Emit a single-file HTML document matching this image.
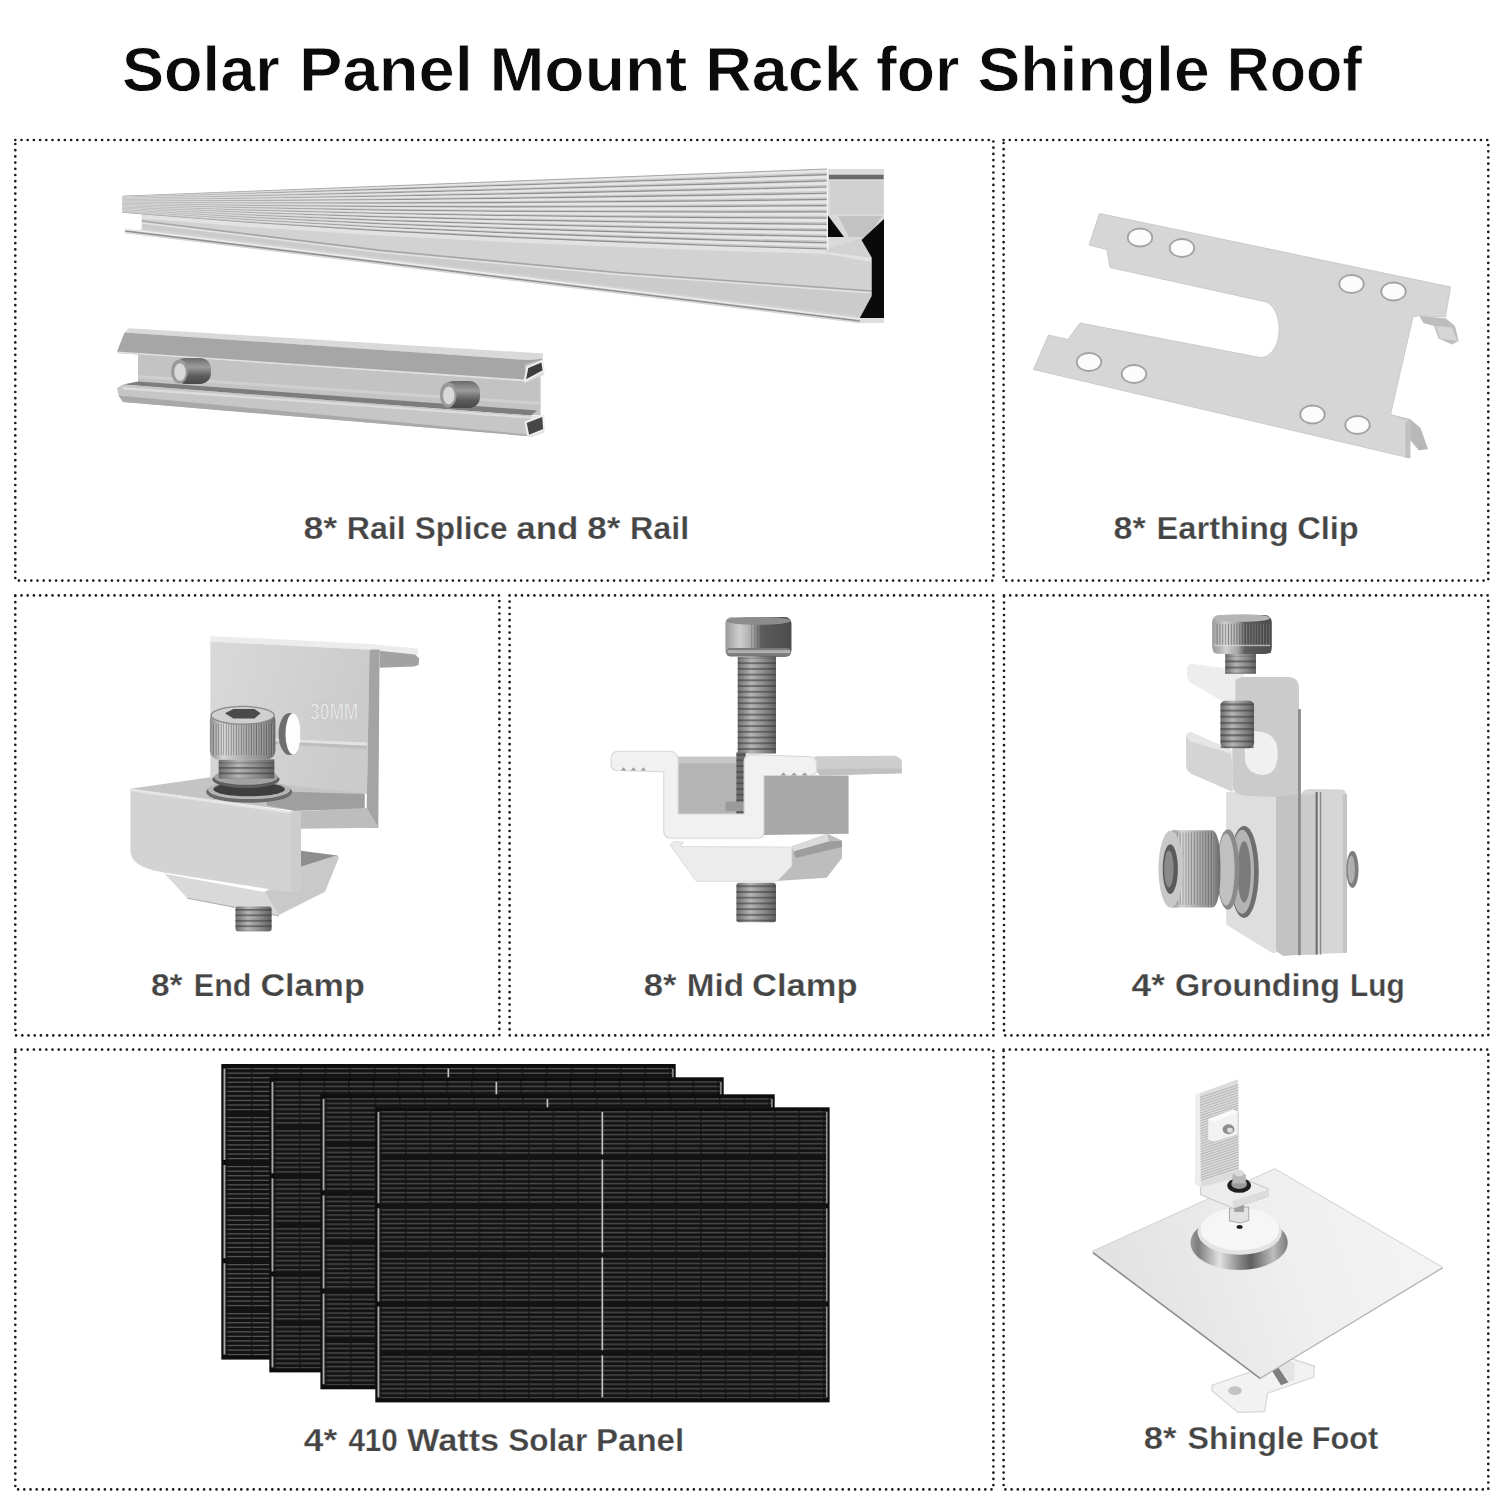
<!DOCTYPE html>
<html><head><meta charset="utf-8"><title>Solar Panel Mount Rack for Shingle Roof</title>
<style>
html,body{margin:0;padding:0;background:#fff;}
body{width:1500px;height:1500px;overflow:hidden;font-family:"Liberation Sans", sans-serif;}
svg{display:block;}
</style></head><body>
<svg width="1500" height="1500" viewBox="0 0 1500 1500" font-family="Liberation Sans, sans-serif">
<defs>
<linearGradient id="gBoltH" x1="0" x2="1" y1="0" y2="0">
<stop offset="0" stop-color="#8c8c8c"/><stop offset="0.25" stop-color="#c9c9c9"/><stop offset="0.6" stop-color="#8a8a8a"/><stop offset="1" stop-color="#5e5e5e"/>
</linearGradient>
<linearGradient id="gShaft" x1="0" x2="1" y1="0" y2="0">
<stop offset="0" stop-color="#6f6f6f"/><stop offset="0.35" stop-color="#b5b5b5"/><stop offset="0.7" stop-color="#8a8a8a"/><stop offset="1" stop-color="#606060"/>
</linearGradient>
<linearGradient id="gHeadD" x1="0" x2="1" y1="0" y2="0">
<stop offset="0" stop-color="#9a9a9a"/><stop offset="0.22" stop-color="#cfcfcf"/><stop offset="0.42" stop-color="#a4a4a4"/><stop offset="0.55" stop-color="#5e5e5e"/><stop offset="1" stop-color="#4c4c4c"/>
</linearGradient>
<pattern id="thread" width="20" height="26" patternUnits="userSpaceOnUse">
<rect width="20" height="26" fill="none"/><rect y="0" width="20" height="9" fill="#3a3a3a" opacity="0.55"/>
</pattern>
<pattern id="knurl" width="14" height="20" patternUnits="userSpaceOnUse">
<rect x="0" width="5" height="20" fill="#4a4a4a" opacity="0.35"/>
</pattern>
<pattern id="cells" width="24.2" height="4.58" patternUnits="userSpaceOnUse">
<rect width="24.2" height="4.58" fill="#141414"/>
<rect x="0.8" y="1.6" width="22.6" height="1.1" fill="#505050"/>
</pattern>
</defs>

<text x="122.0" y="91.3" font-size="62.8" font-weight="bold" fill="#0b0b0b" textLength="157.8" lengthAdjust="spacingAndGlyphs" stroke="#ffffff" stroke-width="0.8">Solar</text>
<text x="299.0" y="91.3" font-size="62.8" font-weight="bold" fill="#0b0b0b" textLength="173.8" lengthAdjust="spacingAndGlyphs" stroke="#ffffff" stroke-width="0.8">Panel</text>
<text x="489.4" y="91.3" font-size="62.8" font-weight="bold" fill="#0b0b0b" textLength="197.8" lengthAdjust="spacingAndGlyphs" stroke="#ffffff" stroke-width="0.8">Mount</text>
<text x="705.2" y="91.3" font-size="62.8" font-weight="bold" fill="#0b0b0b" textLength="154.4" lengthAdjust="spacingAndGlyphs" stroke="#ffffff" stroke-width="0.8">Rack</text>
<text x="876.0" y="91.3" font-size="62.8" font-weight="bold" fill="#0b0b0b" textLength="83.4" lengthAdjust="spacingAndGlyphs" stroke="#ffffff" stroke-width="0.8">for</text>
<text x="977.4" y="91.3" font-size="62.8" font-weight="bold" fill="#0b0b0b" textLength="232.4" lengthAdjust="spacingAndGlyphs" stroke="#ffffff" stroke-width="0.8">Shingle</text>
<text x="1226.8" y="91.3" font-size="62.8" font-weight="bold" fill="#0b0b0b" textLength="135.2" lengthAdjust="spacingAndGlyphs" stroke="#ffffff" stroke-width="0.8">Roof</text>
<text x="303.4" y="538.5" font-size="31" font-weight="bold" fill="#454545" textLength="33.8" lengthAdjust="spacingAndGlyphs" stroke="#ffffff" stroke-width="0.25">8*</text>
<text x="346.8" y="538.5" font-size="31" font-weight="bold" fill="#454545" textLength="58.8" lengthAdjust="spacingAndGlyphs" stroke="#ffffff" stroke-width="0.25">Rail</text>
<text x="414.8" y="538.5" font-size="31" font-weight="bold" fill="#454545" textLength="92.8" lengthAdjust="spacingAndGlyphs" stroke="#ffffff" stroke-width="0.25">Splice</text>
<text x="516.2" y="538.5" font-size="31" font-weight="bold" fill="#454545" textLength="62.2" lengthAdjust="spacingAndGlyphs" stroke="#ffffff" stroke-width="0.25">and</text>
<text x="587.2" y="538.5" font-size="31" font-weight="bold" fill="#454545" textLength="33.2" lengthAdjust="spacingAndGlyphs" stroke="#ffffff" stroke-width="0.25">8*</text>
<text x="630.0" y="538.5" font-size="31" font-weight="bold" fill="#454545" textLength="59.2" lengthAdjust="spacingAndGlyphs" stroke="#ffffff" stroke-width="0.25">Rail</text>
<text x="1113.6" y="539.2" font-size="31" font-weight="bold" fill="#454545" textLength="32.2" lengthAdjust="spacingAndGlyphs" stroke="#ffffff" stroke-width="0.25">8*</text>
<text x="1156.6" y="539.2" font-size="31" font-weight="bold" fill="#454545" textLength="132.2" lengthAdjust="spacingAndGlyphs" stroke="#ffffff" stroke-width="0.25">Earthing</text>
<text x="1297.2" y="539.2" font-size="31" font-weight="bold" fill="#454545" textLength="61.6" lengthAdjust="spacingAndGlyphs" stroke="#ffffff" stroke-width="0.25">Clip</text>
<text x="151.0" y="996" font-size="31" font-weight="bold" fill="#454545" textLength="31.6" lengthAdjust="spacingAndGlyphs" stroke="#ffffff" stroke-width="0.25">8*</text>
<text x="193.8" y="996" font-size="31" font-weight="bold" fill="#454545" textLength="57.6" lengthAdjust="spacingAndGlyphs" stroke="#ffffff" stroke-width="0.25">End</text>
<text x="260.4" y="996" font-size="31" font-weight="bold" fill="#454545" textLength="104.4" lengthAdjust="spacingAndGlyphs" stroke="#ffffff" stroke-width="0.25">Clamp</text>
<text x="643.8" y="996" font-size="31" font-weight="bold" fill="#454545" textLength="32.8" lengthAdjust="spacingAndGlyphs" stroke="#ffffff" stroke-width="0.25">8*</text>
<text x="686.8" y="996" font-size="31" font-weight="bold" fill="#454545" textLength="57.2" lengthAdjust="spacingAndGlyphs" stroke="#ffffff" stroke-width="0.25">Mid</text>
<text x="752.0" y="996" font-size="31" font-weight="bold" fill="#454545" textLength="105.6" lengthAdjust="spacingAndGlyphs" stroke="#ffffff" stroke-width="0.25">Clamp</text>
<text x="1131.6" y="996" font-size="31" font-weight="bold" fill="#454545" textLength="33.4" lengthAdjust="spacingAndGlyphs" stroke="#ffffff" stroke-width="0.25">4*</text>
<text x="1175.0" y="996" font-size="31" font-weight="bold" fill="#454545" textLength="165.0" lengthAdjust="spacingAndGlyphs" stroke="#ffffff" stroke-width="0.25">Grounding</text>
<text x="1350.0" y="996" font-size="31" font-weight="bold" fill="#454545" textLength="54.6" lengthAdjust="spacingAndGlyphs" stroke="#ffffff" stroke-width="0.25">Lug</text>
<text x="303.8" y="1451" font-size="31" font-weight="bold" fill="#454545" textLength="33.4" lengthAdjust="spacingAndGlyphs" stroke="#ffffff" stroke-width="0.25">4*</text>
<text x="348.4" y="1451" font-size="31" font-weight="bold" fill="#454545" textLength="49.4" lengthAdjust="spacingAndGlyphs" stroke="#ffffff" stroke-width="0.25">410</text>
<text x="407.0" y="1451" font-size="31" font-weight="bold" fill="#454545" textLength="92.2" lengthAdjust="spacingAndGlyphs" stroke="#ffffff" stroke-width="0.25">Watts</text>
<text x="508.2" y="1451" font-size="31" font-weight="bold" fill="#454545" textLength="79.0" lengthAdjust="spacingAndGlyphs" stroke="#ffffff" stroke-width="0.25">Solar</text>
<text x="596.0" y="1451" font-size="31" font-weight="bold" fill="#454545" textLength="88.2" lengthAdjust="spacingAndGlyphs" stroke="#ffffff" stroke-width="0.25">Panel</text>
<text x="1143.8" y="1448.8" font-size="31" font-weight="bold" fill="#454545" textLength="32.8" lengthAdjust="spacingAndGlyphs" stroke="#ffffff" stroke-width="0.25">8*</text>
<text x="1187.6" y="1448.8" font-size="31" font-weight="bold" fill="#454545" textLength="116.0" lengthAdjust="spacingAndGlyphs" stroke="#ffffff" stroke-width="0.25">Shingle</text>
<text x="1311.8" y="1448.8" font-size="31" font-weight="bold" fill="#454545" textLength="66.4" lengthAdjust="spacingAndGlyphs" stroke="#ffffff" stroke-width="0.25">Foot</text>
<rect x="15.3" y="140" width="978.1" height="440.6" fill="none" stroke="#1c1c1c" stroke-width="2.7" stroke-dasharray="0 6.2" stroke-linecap="round"/>
<rect x="1003.6" y="140" width="484.7" height="440.6" fill="none" stroke="#1c1c1c" stroke-width="2.7" stroke-dasharray="0 6.2" stroke-linecap="round"/>
<rect x="15.3" y="595.4" width="484.1" height="440.0" fill="none" stroke="#1c1c1c" stroke-width="2.7" stroke-dasharray="0 6.2" stroke-linecap="round"/>
<rect x="509.6" y="595.4" width="483.8" height="440.0" fill="none" stroke="#1c1c1c" stroke-width="2.7" stroke-dasharray="0 6.2" stroke-linecap="round"/>
<rect x="1004" y="595.4" width="484.3" height="440.0" fill="none" stroke="#1c1c1c" stroke-width="2.7" stroke-dasharray="0 6.2" stroke-linecap="round"/>
<rect x="15.3" y="1049.6" width="978.1" height="439.8" fill="none" stroke="#1c1c1c" stroke-width="2.7" stroke-dasharray="0 6.2" stroke-linecap="round"/>
<rect x="1003.6" y="1049.6" width="484.7" height="439.8" fill="none" stroke="#1c1c1c" stroke-width="2.7" stroke-dasharray="0 6.2" stroke-linecap="round"/>
<g id="rail">
<polygon points="141.8,213.92 250.0,222.50 380.0,231.00 500.0,237.30 620.0,242.40 720.0,246.30 827.0,249.60 871.7,257.5 871.7,296 859.8,318 859.8,323 125,233 125,231 141.8,229.5" fill="#d2d2d2"/>
<polygon points="141.8,213.92 250.0,222.50 380.0,231.00 500.0,237.30 620.0,242.40 720.0,246.30 827.0,249.60 871.7,252 871.7,262 827.0,254.10 720.0,250.80 620.0,246.90 500.0,241.80 380.0,235.50 250.0,227.00 141.8,218.42" fill="#e2e2e2"/>
<polyline points="141.8,221.00 260.0,235.59 380.0,250.40 500.0,261.60 620.0,272.80 750.0,282.20 871.7,291.00" fill="none" stroke="#a6a6a6" stroke-width="1.6"/>
<polyline points="141.8,222.80 260.0,237.39 380.0,252.20 500.0,263.40 620.0,274.60 750.0,284.00 871.7,292.80" fill="none" stroke="#e4e4e4" stroke-width="1.2"/>
<polygon points="141.8,224.00 380.0,253.40 620.0,275.80 871.7,294.00 871.7,300 860.0,316.02 620.0,286.63 380.0,257.23 141.8,228.06" fill="#cbcbcb"/>
<line x1="125" y1="229.00" x2="860" y2="319.02" stroke="#ececec" stroke-width="1.6"/>
<line x1="125" y1="231.00" x2="860" y2="321.02" stroke="#8e8e8e" stroke-width="1.5"/>
<line x1="125" y1="232.70" x2="860" y2="322.72" stroke="#d8d8d8" stroke-width="1.2"/>
<polygon points="122.6,196.20 827.0,169.00 827.0,249.60 720.0,246.30 620.0,242.40 500.0,237.30 380.0,231.00 250.0,222.50 122.6,212.40" fill="#c9c9c9"/>
<polygon points="122.6,196.30 250.0,191.47 380.0,186.54 500.0,181.97 620.0,177.40 720.0,173.58 827.0,169.50 827.0,172.41 720.0,176.23 620.0,179.76 500.0,183.98 380.0,188.15 250.0,192.60 122.6,196.89" fill="#e6e6e6"/>
<polyline points="122.6,197.32 250.0,193.44 380.0,189.36 500.0,185.48 620.0,181.52 720.0,178.20 827.0,174.58" fill="none" stroke="#8e8e8e" stroke-width="1.1"/>
<polygon points="122.6,197.55 250.0,193.87 380.0,189.98 500.0,186.25 620.0,182.43 720.0,179.21 827.0,175.70 827.0,178.61 720.0,181.86 620.0,184.79 500.0,188.26 380.0,191.59 250.0,195.00 122.6,198.13" fill="#e6e6e6"/>
<polyline points="122.6,198.57 250.0,195.84 380.0,192.80 500.0,189.76 620.0,186.55 720.0,183.83 827.0,180.78" fill="none" stroke="#8e8e8e" stroke-width="1.1"/>
<polygon points="122.6,198.79 250.0,196.28 380.0,193.42 500.0,190.53 620.0,187.46 720.0,184.84 827.0,181.90 827.0,184.81 720.0,187.48 620.0,189.82 500.0,192.55 380.0,195.04 250.0,197.40 122.6,199.38" fill="#e6e6e6"/>
<polyline points="122.6,199.81 250.0,198.24 380.0,196.24 500.0,194.05 620.0,191.58 720.0,189.45 827.0,186.98" fill="none" stroke="#8e8e8e" stroke-width="1.1"/>
<polygon points="122.6,200.04 250.0,198.68 380.0,196.86 500.0,194.82 620.0,192.49 720.0,190.47 827.0,188.10 827.0,191.01 720.0,193.11 620.0,194.85 500.0,196.83 380.0,198.48 250.0,199.81 122.6,200.62" fill="#e6e6e6"/>
<polyline points="122.6,201.06 250.0,200.65 380.0,199.68 500.0,198.33 620.0,196.62 720.0,195.08 827.0,193.18" fill="none" stroke="#8e8e8e" stroke-width="1.1"/>
<polygon points="122.6,201.28 250.0,201.08 380.0,200.30 500.0,199.10 620.0,197.52 720.0,196.10 827.0,194.30 827.0,197.21 720.0,198.74 620.0,199.89 500.0,201.11 380.0,201.92 250.0,202.21 122.6,201.87" fill="#e6e6e6"/>
<polyline points="122.6,202.31 250.0,203.05 380.0,203.12 500.0,202.61 620.0,201.65 720.0,200.71 827.0,199.38" fill="none" stroke="#8e8e8e" stroke-width="1.1"/>
<polygon points="122.6,202.53 250.0,203.48 380.0,203.74 500.0,203.38 620.0,202.55 720.0,201.72 827.0,200.50 827.0,203.41 720.0,204.37 620.0,204.92 500.0,205.40 380.0,205.36 250.0,204.61 122.6,203.12" fill="#e6e6e6"/>
<polyline points="122.6,203.55 250.0,205.45 380.0,206.57 500.0,206.89 620.0,206.68 720.0,206.34 827.0,205.58" fill="none" stroke="#8e8e8e" stroke-width="1.1"/>
<polygon points="122.6,203.78 250.0,205.88 380.0,207.18 500.0,207.66 620.0,207.58 720.0,207.35 827.0,206.70 827.0,209.61 720.0,210.00 620.0,209.95 500.0,209.68 380.0,208.80 250.0,207.01 122.6,204.36" fill="#e6e6e6"/>
<polyline points="122.6,204.80 250.0,207.85 380.0,210.01 500.0,211.18 620.0,211.71 720.0,211.97 827.0,211.78" fill="none" stroke="#8e8e8e" stroke-width="1.1"/>
<polygon points="122.6,205.02 250.0,208.28 380.0,210.63 500.0,211.95 620.0,212.61 720.0,212.98 827.0,212.90 827.0,215.81 720.0,215.63 620.0,214.98 500.0,213.96 380.0,212.24 250.0,209.41 122.6,205.61" fill="#e6e6e6"/>
<polyline points="122.6,206.04 250.0,210.25 380.0,213.45 500.0,215.46 620.0,216.74 720.0,217.60 827.0,217.98" fill="none" stroke="#8e8e8e" stroke-width="1.1"/>
<polygon points="122.6,206.27 250.0,210.68 380.0,214.07 500.0,216.23 620.0,217.65 720.0,218.61 827.0,219.10 827.0,222.01 720.0,221.25 620.0,220.01 500.0,218.24 380.0,215.69 250.0,211.81 122.6,206.85" fill="#e6e6e6"/>
<polyline points="122.6,207.29 250.0,212.65 380.0,216.89 500.0,219.74 620.0,221.77 720.0,223.22 827.0,224.18" fill="none" stroke="#8e8e8e" stroke-width="1.1"/>
<polygon points="122.6,207.52 250.0,213.09 380.0,217.51 500.0,220.51 620.0,222.68 720.0,224.24 827.0,225.30 827.0,228.21 720.0,226.88 620.0,225.04 500.0,222.53 380.0,219.13 250.0,214.21 122.6,208.10" fill="#e6e6e6"/>
<polyline points="122.6,208.54 250.0,215.06 380.0,220.33 500.0,224.02 620.0,226.80 720.0,228.85 827.0,230.38" fill="none" stroke="#8e8e8e" stroke-width="1.1"/>
<polygon points="122.6,208.76 250.0,215.49 380.0,220.95 500.0,224.79 620.0,227.71 720.0,229.87 827.0,231.50 827.0,234.41 720.0,232.51 620.0,230.07 500.0,226.81 380.0,222.57 250.0,216.62 122.6,209.35" fill="#e6e6e6"/>
<polyline points="122.6,209.78 250.0,217.46 380.0,223.77 500.0,228.31 620.0,231.83 720.0,234.48 827.0,236.58" fill="none" stroke="#8e8e8e" stroke-width="1.1"/>
<polygon points="122.6,210.01 250.0,217.89 380.0,224.39 500.0,229.08 620.0,232.74 720.0,235.49 827.0,237.70 827.0,240.61 720.0,238.14 620.0,235.10 500.0,231.09 380.0,226.01 250.0,219.02 122.6,210.59" fill="#e6e6e6"/>
<polyline points="122.6,211.03 250.0,219.86 380.0,227.21 500.0,232.59 620.0,236.87 720.0,240.11 827.0,242.78" fill="none" stroke="#8e8e8e" stroke-width="1.1"/>
<polygon points="122.6,211.25 250.0,220.29 380.0,227.83 500.0,233.36 620.0,237.77 720.0,241.12 827.0,243.90 827.0,246.81 720.0,243.77 620.0,240.14 500.0,235.37 380.0,229.45 250.0,221.42 122.6,211.84" fill="#e6e6e6"/>
<polyline points="122.6,212.28 250.0,222.26 380.0,230.66 500.0,236.87 620.0,241.90 720.0,245.74 827.0,248.98" fill="none" stroke="#8e8e8e" stroke-width="1.1"/>
<line x1="122.6" y1="196.2" x2="827" y2="169" stroke="#a8a8a8" stroke-width="1"/>
<defs><linearGradient id="gFade" gradientUnits="userSpaceOnUse" x1="122" y1="0" x2="420" y2="0">
<stop offset="0" stop-color="#d4d4d4" stop-opacity="0.75"/><stop offset="1" stop-color="#d4d4d4" stop-opacity="0"/></linearGradient></defs>
<polygon points="122.6,196.20 827.0,169.00 827.0,249.60 720.0,246.30 620.0,242.40 500.0,237.30 380.0,231.00 250.0,222.50 122.6,212.40" fill="url(#gFade)"/>
<polygon points="827,169 884,169 884,219 872,240 861.5,240 827,250" fill="#dadada"/>
<polygon points="829,174.7 883.6,174.7 883.6,179.3 829,179.3" fill="#6a6a6a"/>
<polygon points="830,181 883,181 883,214 830,214" fill="#d0d0d0"/>
<polygon points="838,216 882,216 868,237 849,237" fill="#c2c2c2"/>
<polygon points="826,249.6 861.5,238 873,258 826,252" fill="#d2d2d2"/>
<line x1="827.5" y1="169" x2="827.5" y2="250" stroke="#f2f2f2" stroke-width="1.5"/>
<polygon points="828,215.6 828,237 844,237" fill="#0a0a0a"/>
<polygon points="884,219 861.5,240 871.7,257.5 871.7,296 859.8,318 884,318" fill="#0a0a0a"/>
<polygon points="859.8,318 884,318 884,323 859.8,323" fill="#dedede"/>
</g>
<defs><pattern id="pcell" width="24.6" height="49" patternUnits="userSpaceOnUse"><rect width="24.6" height="49" fill="#131313"/><rect x="0" y="4.00" width="5.2" height="1.25" fill="#545454"/><rect x="6.4" y="4.00" width="18.2" height="1.25" fill="#545454"/><rect x="0" y="8.55" width="5.2" height="1.25" fill="#545454"/><rect x="6.4" y="8.55" width="18.2" height="1.25" fill="#545454"/><rect x="0" y="13.10" width="5.2" height="1.25" fill="#545454"/><rect x="6.4" y="13.10" width="18.2" height="1.25" fill="#545454"/><rect x="0" y="17.65" width="5.2" height="1.25" fill="#545454"/><rect x="6.4" y="17.65" width="18.2" height="1.25" fill="#545454"/><rect x="0" y="22.20" width="5.2" height="1.25" fill="#545454"/><rect x="6.4" y="22.20" width="18.2" height="1.25" fill="#545454"/><rect x="0" y="26.75" width="5.2" height="1.25" fill="#545454"/><rect x="6.4" y="26.75" width="18.2" height="1.25" fill="#545454"/><rect x="0" y="31.30" width="5.2" height="1.25" fill="#545454"/><rect x="6.4" y="31.30" width="18.2" height="1.25" fill="#545454"/><rect x="0" y="35.85" width="5.2" height="1.25" fill="#545454"/><rect x="6.4" y="35.85" width="18.2" height="1.25" fill="#545454"/><rect x="0" y="40.40" width="5.2" height="1.25" fill="#545454"/><rect x="6.4" y="40.40" width="18.2" height="1.25" fill="#545454"/><rect x="0" y="44.95" width="5.2" height="1.25" fill="#545454"/><rect x="6.4" y="44.95" width="18.2" height="1.25" fill="#545454"/></pattern></defs>
<g transform="translate(221.3,1064)">
<rect x="0" y="0" width="454.4" height="295.6" fill="#0d0d0d"/>
<rect x="4.5" y="3.5" width="446.4" height="288.1" fill="url(#pcell)"/>
<rect x="226.2" y="4.5" width="1.7" height="42.7" fill="#c4c4c4"/>
<rect x="226.2" y="52.2" width="1.7" height="93.0" fill="#c4c4c4"/>
<rect x="226.2" y="150.2" width="1.7" height="92.8" fill="#c4c4c4"/>
<rect x="226.2" y="248.0" width="1.7" height="42.6" fill="#c4c4c4"/>
<rect x="2.2" y="4.5" width="1.9" height="91.5" fill="#a9a9a9"/>
<rect x="450.8" y="4.5" width="1.6" height="91.5" fill="#8f8f8f"/>
<rect x="2.2" y="101.0" width="1.9" height="93.2" fill="#a9a9a9"/>
<rect x="450.8" y="101.0" width="1.6" height="93.2" fill="#8f8f8f"/>
<rect x="2.2" y="199.2" width="1.9" height="91.4" fill="#a9a9a9"/>
<rect x="450.8" y="199.2" width="1.6" height="91.4" fill="#8f8f8f"/>
</g>
<g transform="translate(269.3,1077.3)">
<rect x="0" y="0" width="454.4" height="295.1" fill="#0d0d0d"/>
<rect x="4.5" y="3.5" width="446.4" height="287.6" fill="url(#pcell)"/>
<rect x="226.2" y="4.5" width="1.7" height="42.7" fill="#c4c4c4"/>
<rect x="226.2" y="52.2" width="1.7" height="93.0" fill="#c4c4c4"/>
<rect x="226.2" y="150.2" width="1.7" height="92.8" fill="#c4c4c4"/>
<rect x="226.2" y="248.0" width="1.7" height="42.1" fill="#c4c4c4"/>
<rect x="2.2" y="4.5" width="1.9" height="91.5" fill="#a9a9a9"/>
<rect x="450.8" y="4.5" width="1.6" height="91.5" fill="#8f8f8f"/>
<rect x="2.2" y="101.0" width="1.9" height="93.2" fill="#a9a9a9"/>
<rect x="450.8" y="101.0" width="1.6" height="93.2" fill="#8f8f8f"/>
<rect x="2.2" y="199.2" width="1.9" height="90.9" fill="#a9a9a9"/>
<rect x="450.8" y="199.2" width="1.6" height="90.9" fill="#8f8f8f"/>
</g>
<g transform="translate(320.4,1094.3)">
<rect x="0" y="0" width="454.3" height="295" fill="#0d0d0d"/>
<rect x="4.5" y="3.5" width="446.3" height="287.5" fill="url(#pcell)"/>
<rect x="226.2" y="4.5" width="1.7" height="42.7" fill="#c4c4c4"/>
<rect x="226.2" y="52.2" width="1.7" height="93.0" fill="#c4c4c4"/>
<rect x="226.2" y="150.2" width="1.7" height="92.8" fill="#c4c4c4"/>
<rect x="226.2" y="248.0" width="1.7" height="42.0" fill="#c4c4c4"/>
<rect x="2.2" y="4.5" width="1.9" height="91.5" fill="#a9a9a9"/>
<rect x="450.7" y="4.5" width="1.6" height="91.5" fill="#8f8f8f"/>
<rect x="2.2" y="101.0" width="1.9" height="93.2" fill="#a9a9a9"/>
<rect x="450.7" y="101.0" width="1.6" height="93.2" fill="#8f8f8f"/>
<rect x="2.2" y="199.2" width="1.9" height="90.8" fill="#a9a9a9"/>
<rect x="450.7" y="199.2" width="1.6" height="90.8" fill="#8f8f8f"/>
</g>
<g transform="translate(375.3,1107.3)">
<rect x="0" y="0" width="454.3" height="295.1" fill="#0d0d0d"/>
<rect x="4.5" y="3.5" width="446.3" height="287.6" fill="url(#pcell)"/>
<rect x="226.2" y="4.5" width="1.7" height="42.7" fill="#c4c4c4"/>
<rect x="226.2" y="52.2" width="1.7" height="93.0" fill="#c4c4c4"/>
<rect x="226.2" y="150.2" width="1.7" height="92.8" fill="#c4c4c4"/>
<rect x="226.2" y="248.0" width="1.7" height="42.1" fill="#c4c4c4"/>
<rect x="2.2" y="4.5" width="1.9" height="91.5" fill="#a9a9a9"/>
<rect x="450.7" y="4.5" width="1.6" height="91.5" fill="#8f8f8f"/>
<rect x="2.2" y="101.0" width="1.9" height="93.2" fill="#a9a9a9"/>
<rect x="450.7" y="101.0" width="1.6" height="93.2" fill="#8f8f8f"/>
<rect x="2.2" y="199.2" width="1.9" height="90.9" fill="#a9a9a9"/>
<rect x="450.7" y="199.2" width="1.6" height="90.9" fill="#8f8f8f"/>
</g>

<!-- SPLICE: zoom origin (105,315) scale 1/3.333 -->
<g id="splice" transform="translate(105,315) scale(0.3)">
  <!-- web (back) -->
  <polygon points="110,128 1452,205 1452,335 110,245" fill="#c3c3c3"/>
  <polygon points="110,200 1452,290 1452,300 110,210" fill="#cfcfcf"/>
  <!-- bottom flange inner dark -->
  <polygon points="60,232 110,222 1440,318 1420,335" fill="#7d7d7d"/>
  <!-- bottom flange front face -->
  <polygon points="40,243 60,232 1420,335 1462,340 1462,392 1425,405 60,290 45,268" fill="#c6c6c6"/>
  <polygon points="45,268 1425,400 1425,405 60,290" fill="#a9a9a9"/>
  <polygon points="60,240 1420,338 1420,346 60,248" fill="#dcdcdc"/>
  <!-- right end lips -->
  <polygon points="1420,335 1462,340 1462,392 1425,405 1415,390 1450,380 1450,352 1420,348" fill="#e2e2e2"/>
  <polygon points="1395,212 1460,148 1462,200 1400,226" fill="#d8d8d8"/>
  <!-- top flange: top surface -->
  <polygon points="65,58 80,44 1460,128 1460,146 1410,150" fill="#d9d9d9"/>
  <!-- top flange front face -->
  <polygon points="40,122 65,58 1410,150 1460,146 1445,165 1400,222 40,127" fill="#a6a6a6"/>
  <polygon points="40,122 1400,215 1400,222 40,127" fill="#e0e0e0"/>
  <polygon points="1400,165 1455,150 1455,195 1400,215" fill="#c8c8c8"/>
  <!-- hollow ends -->
  <polygon points="1408,174 1457.7,153.3 1462.3,186 1398.7,220.3" fill="#3e3e3e" stroke="#eeeeee" stroke-width="7" stroke-linejoin="round"/>
  <polygon points="1401.7,357.3 1460.7,335.3 1464,382 1411,404" fill="#474747" stroke="#eeeeee" stroke-width="7" stroke-linejoin="round"/>
  <!-- bolts -->
  <defs><linearGradient id="gDarkBolt" x1="0" x2="0" y1="0" y2="1">
  <stop offset="0" stop-color="#6a6a6a"/><stop offset="0.35" stop-color="#9c9c9c"/><stop offset="0.7" stop-color="#5c5c5c"/><stop offset="1" stop-color="#484848"/></linearGradient></defs>
  <rect x="232" y="143" width="121" height="87" rx="36" fill="url(#gDarkBolt)"/>
  <ellipse cx="248" cy="188" rx="28" ry="40" fill="#9a9a9a"/>
  <ellipse cx="250" cy="190" rx="19" ry="29" fill="#d9d9d9"/>
  <rect x="1125" y="220" width="125" height="90" rx="36" fill="url(#gDarkBolt)"/>
  <ellipse cx="1144" cy="266" rx="28" ry="42" fill="#9a9a9a"/>
  <ellipse cx="1146" cy="268" rx="19" ry="30" fill="#d9d9d9"/>
</g>
<!-- EARTHING CLIP: zoom origin (1020,200) scale 0.3 -->
<g id="earth" transform="translate(1020,200) scale(0.3)">
  <!-- tabs -->
  <polygon points="1330,385 1420,395 1450,420 1462,470 1440,482 1395,462 1380,420 1345,410" fill="#bdbdbd"/>
  <polygon points="1385,420 1440,425 1458,470 1400,462" fill="#d5d5d5"/>
  <polygon points="1235,715 1300,730 1335,760 1360,830 1330,835 1300,800" fill="#b8b8b8"/>
  <path d="M265,45 L1435,290 L1418,390 L1330,385 L1310,390 L1235,715 L1300,735 L1300,860 L45,565 L95,450 L160,465 L200,410 L800,525 A62,95 0 0 0 822,340 L300,225 L290,165 L230,150 Z" fill="#d6d6d6" stroke="#c6c6c6" stroke-width="3"/>
  <path d="M1300,735 L1300,860 L1285,860 L1285,740 Z" fill="#c0c0c0"/>
  <g fill="#fcfcfc" stroke="#a2a2a2" stroke-width="6">
    <ellipse cx="400" cy="125" rx="41" ry="30"/>
    <ellipse cx="540" cy="160" rx="41" ry="30"/>
    <ellipse cx="1105" cy="280" rx="41" ry="30"/>
    <ellipse cx="1245" cy="305" rx="41" ry="30"/>
    <ellipse cx="230" cy="540" rx="41" ry="30"/>
    <ellipse cx="380" cy="580" rx="41" ry="30"/>
    <ellipse cx="975" cy="715" rx="41" ry="30"/>
    <ellipse cx="1125" cy="750" rx="41" ry="30"/>
  </g>
</g>
<!-- END CLAMP: zoom origin (120,625) scale 0.21 -->
<g id="endclamp" transform="translate(120,625) scale(0.21)">
  <defs><linearGradient id="gPlateEC" x1="0" x2="1" y1="0" y2="0.3">
  <stop offset="0" stop-color="#d9d9d9"/><stop offset="1" stop-color="#cbcbcb"/></linearGradient></defs>
  <!-- plate top surface -->
  <polygon points="430,52 1190,90 1419,112 1419,144 1190,118 430,79" fill="#ececec"/>
  <!-- plate face -->
  <polygon points="430,79 1188,118 1176,805 430,725" fill="url(#gPlateEC)"/>
  <polygon points="700,540 1176,560 1176,575 700,552" fill="#e2e2e2"/>
  <polygon points="700,552 1176,575 1176,590 700,565" fill="#bdbdbd"/>
  <!-- right strip -->
  <polygon points="1188,118 1236,118 1230,965 1173,965" fill="#a4a4a4"/>
  <!-- top lip front -->
  <polygon points="1190,118 1405,140 1425,160 1422,190 1400,198 1236,203 1236,118" fill="#a2a2a2"/>
  <!-- 30MM embossed -->
  <text x="905" y="450" font-size="110" font-weight="bold" fill="#e9e9e9" stroke="#c4c4c4" stroke-width="4" textLength="230" lengthAdjust="spacingAndGlyphs">30MM</text>
  <!-- hole -->
  <ellipse cx="807" cy="519" rx="52" ry="100" fill="#6e6e6e"/>
  <ellipse cx="824" cy="519" rx="36" ry="97" fill="#fdfdfd"/>
  <!-- shelf top -->
  <polygon points="50,780 430,725 1165,800 1165,875 830,885" fill="#c4c4c4"/>
  <polygon points="690,790 1165,805 1165,875 830,885 700,860" fill="#9f9f9f"/>
  <!-- shelf side face -->
  <polygon points="815,888 1176,872 1232,965 862,970 862,1270 815,1270" fill="#bdbdbd"/>
  <!-- slider channel (behind) -->
  <polygon points="862,1075 1035,1098 1040,1112 990,1135 862,1160" fill="#8e8e8e"/>
  <!-- slider right angled face -->
  <polygon points="680,1276 862,1170 862,1150 1028,1098 1042,1110 976,1270 757,1381" fill="#c9c9c9"/>
  <!-- slider front-left face -->
  <polygon points="212,1185 690,1272 757,1381 317,1297" fill="#d9d9d9"/>
  <polygon points="317,1297 757,1381 757,1388 320,1303" fill="#b5b5b5"/>
  <!-- block right strip -->
  <polygon points="815,888 862,890 862,1270 815,1270" fill="#cdcdcd"/>
  <!-- front block face -->
  <path d="M50,780 L815,888 L815,1270 L790,1270 L215,1180 Q90,1160 58,1110 L50,1080 Z" fill="#d3d3d3"/>
  <path d="M50,780 L815,888 L815,898 L50,792 Z" fill="#e6e6e6"/>
  <!-- thread -->
  <rect x="550" y="1340" width="172" height="118" rx="12" fill="url(#gShaft)"/>
  <rect x="550" y="1340" width="172" height="118" rx="12" fill="url(#thread)"/>
  <!-- washers -->
  <defs><linearGradient id="gHeadL" x1="0" x2="1" y1="0" y2="0">
  <stop offset="0" stop-color="#8e8e8e"/><stop offset="0.2" stop-color="#d4d4d4"/><stop offset="0.55" stop-color="#a8a8a8"/><stop offset="0.85" stop-color="#8a8a8a"/><stop offset="1" stop-color="#6a6a6a"/></linearGradient>
  <pattern id="knurl2" width="12" height="20" patternUnits="userSpaceOnUse"><rect x="0" width="4" height="20" fill="#3a3a3a" opacity="0.45"/><rect x="6" width="2" height="20" fill="#ffffff" opacity="0.35"/></pattern></defs>
  <ellipse cx="607" cy="1008" rx="1" ry="1" fill="none"/>
  <ellipse cx="615" cy="795" rx="205" ry="52" fill="#6a6a6a"/>
  <ellipse cx="615" cy="785" rx="196" ry="44" fill="#b4b4b4"/>
  <ellipse cx="615" cy="782" rx="170" ry="34" fill="#3e3e3e"/>
  <ellipse cx="600" cy="735" rx="160" ry="42" fill="#5e5e5e"/>
  <ellipse cx="600" cy="725" rx="152" ry="36" fill="#a2a2a2"/>
  <rect x="470" y="640" width="265" height="90" fill="url(#gShaft)"/>
  <rect x="470" y="655" width="265" height="75" fill="url(#thread)"/>
  <!-- bolt head -->
  <rect x="428" y="410" width="312" height="232" rx="45" fill="url(#gHeadL)"/>
  <rect x="440" y="470" width="290" height="150" fill="url(#knurl2)"/>
  <ellipse cx="584" cy="430" rx="150" ry="42" fill="#cfcfcf" stroke="#8a8a8a" stroke-width="6"/>
  <polygon points="500,420 540,400 640,400 670,420 640,445 540,445" fill="#4a4a4a"/>
</g>
<!-- MID CLAMP: zoom origin (600,605) scale 0.22 -->
<g id="midclamp" transform="translate(600,605) scale(0.22)">
  <!-- bolt shaft -->
  <rect x="626" y="225" width="174" height="450" fill="url(#gShaft)"/>
  <rect x="626" y="240" width="174" height="435" fill="url(#thread)"/>
  <!-- bolt head -->
  <rect x="570" y="55" width="300" height="180" rx="28" fill="url(#gHeadD)"/>
  <rect x="680" y="80" width="190" height="125" fill="url(#knurl)"/>
  <rect x="575" y="195" width="292" height="38" rx="16" fill="#7a7a7a"/>
  <rect x="580" y="205" width="285" height="14" fill="#b0b0b0"/>
  <ellipse cx="720" cy="72" rx="148" ry="18" fill="#8c8c8c"/>
  <!-- right side face -->
  <polygon points="745,775 1130,775 1130,1040 745,1045" fill="#a8a8a8"/>
  <!-- right wing top -->
  <polygon points="975,688 1345,685 1372,705 1372,765 1000,775 985,760" fill="#cdcdcd"/>
  <polygon points="985,745 1372,742 1372,765 1000,775" fill="#c0c0c0"/>
  <!-- cavity back -->
  <rect x="355" y="690" width="300" height="262" fill="#b4b4b4"/>
  <rect x="355" y="690" width="300" height="30" fill="#c6c6c6"/>
  <!-- thin shaft in slot + nut -->
  <rect x="620" y="670" width="42" height="280" fill="#6e6e6e"/>
  <rect x="620" y="670" width="42" height="280" fill="url(#thread)"/>
  <rect x="570" y="893" width="88" height="45" rx="10" fill="#9a9a9a"/>
  <!-- front face (profile) -->
  <path d="M50,700 Q52,665 85,665 L318,665 Q350,667 355,700 L355,950 L655,950 L655,705 Q660,680 690,680 L955,690 Q985,695 985,722 L985,758 Q975,775 940,775 L745,775 L745,1035 Q742,1060 715,1060 L320,1060 Q292,1058 290,1030 L290,758 L75,752 Q50,748 50,725 Z" fill="#f1f1f1" stroke="#d6d6d6" stroke-width="5"/>
  <!-- teeth -->
  <g fill="#9a9a9a">
    <path d="M95,752 l12,-14 l12,14 Z"/><path d="M140,752 l12,-14 l12,14 Z"/><path d="M185,752 l12,-14 l12,14 Z"/>
    <path d="M820,775 l14,-14 l14,14 Z"/><path d="M868,775 l14,-14 l14,14 Z"/><path d="M916,775 l14,-14 l14,14 Z"/>
  </g>
  <!-- lower T piece side -->
  <polygon points="800,1255 870,1185 870,1098 1035,1040 1100,1072 1100,1150 1030,1240" fill="#bdbdbd"/>
  <polygon points="870,1098 1035,1040 1040,1075 880,1120" fill="#dadada"/>
  <polygon points="880,1120 1040,1075 1100,1072 1100,1100 890,1150" fill="#9d9d9d"/>
  <!-- lower T piece front -->
  <path d="M318,1090 Q325,1075 350,1075 L380,1078 L365,1098 L860,1100 L872,1112 L872,1185 L805,1256 L438,1256 Z" fill="#ececec" stroke="#d8d8d8" stroke-width="4"/>
  <!-- bottom thread -->
  <rect x="620" y="1262" width="180" height="180" rx="14" fill="url(#gShaft)"/>
  <rect x="620" y="1270" width="180" height="170" fill="url(#thread)"/>
</g>
<!-- GROUNDING LUG: zoom origin (1140,605) scale 0.2366 -->
<g id="lug" transform="translate(1140,605) scale(0.2366)">
  <!-- right bar -->
  <path d="M680,800 Q690,778 720,778 L855,780 Q875,785 875,815 L875,1470 L680,1478 Z" fill="#d6d6d6"/>
  <rect x="680" y="800" width="62" height="678" fill="#cbcbcb"/>
  <rect x="742" y="790" width="9" height="688" fill="#6e6e6e"/>
  <rect x="760" y="790" width="6" height="688" fill="#8a8a8a"/>
  <rect x="857" y="800" width="18" height="670" fill="#c4c4c4"/>
  <!-- small nut right -->
  <ellipse cx="898" cy="1118" rx="26" ry="78" fill="#7e7e7e"/>
  <ellipse cx="893" cy="1118" rx="15" ry="58" fill="#b0b0b0"/>
  <!-- left lower block -->
  <polygon points="364,790 575,795 575,1471 557,1470 364,1350" fill="#dedede"/>
  <!-- main vertical plate -->
  <path d="M390,345 Q392,306 432,304 L630,304 Q672,306 672,352 L672,1478 L605,1482 L575,1462 L575,812 L438,805 Q390,800 390,760 Z" fill="#cbcbcb"/>
  <path d="M575,812 L672,800 L672,1478 L605,1482 L575,1462 Z" fill="#c2c2c2"/>
  <rect x="668" y="440" width="12" height="1040" fill="#8c8c8c"/>
  <!-- C cutout (inner lit) -->
  <path d="M440,560 Q450,525 505,535 Q580,545 582,620 Q585,715 520,718 Q455,716 445,660 Z" fill="#f0f0f0"/>
  <!-- upper jaw -->
  <path d="M200,262 Q205,248 230,250 L400,272 L445,300 L403,314 L403,422 L335,399 L205,322 Q196,300 200,262 Z" fill="#ededed"/>
  <!-- lower jaw -->
  <path d="M195,550 Q200,535 220,540 L385,612 L392,700 L392,790 L230,720 Q195,705 195,680 Z" fill="#d4d4d4"/>
  <path d="M195,550 Q200,535 220,540 L385,612 L390,630 L210,575 Z" fill="#e6e6e6"/>
  <!-- upper threads -->
  <rect x="340" y="405" width="142" height="200" rx="20" fill="url(#gShaft)"/>
  <rect x="340" y="405" width="142" height="200" fill="url(#thread)"/>
  <!-- top bolt neck -->
  <rect x="360" y="200" width="130" height="90" fill="url(#gShaft)"/>
  <rect x="360" y="215" width="130" height="75" fill="url(#thread)"/>
  <!-- top bolt head -->
  <rect x="305" y="42" width="252" height="165" rx="30" fill="url(#gHeadD)"/>
  <rect x="320" y="80" width="230" height="95" fill="url(#knurl2)"/>
  <rect x="310" y="172" width="245" height="32" rx="12" fill="url(#gHeadD)"/>
  <rect x="315" y="168" width="235" height="6" fill="#eeeeee" opacity="0.6"/>
  <ellipse cx="430" cy="55" rx="120" ry="16" fill="#b5b5b5"/>
  <!-- lower bolt washers -->
  <ellipse cx="440" cy="1128" rx="62" ry="195" fill="#6e6e6e"/>
  <ellipse cx="432" cy="1128" rx="50" ry="178" fill="#b4b4b4"/>
  <ellipse cx="440" cy="1128" rx="28" ry="130" fill="#7a7a7a"/>
  <ellipse cx="372" cy="1118" rx="48" ry="170" fill="#8a8a8a"/>
  <ellipse cx="364" cy="1118" rx="36" ry="152" fill="#c0c0c0"/>
  <!-- lower bolt head cylinder -->
  <path d="M135,952 L305,952 Q340,958 340,1115 Q340,1275 305,1279 L135,1279 Z" fill="url(#gHeadL)"/>
  <path d="M150,962 L310,962 L310,1268 L150,1268 Z" fill="url(#knurl2)" opacity="0.8"/>
  <ellipse cx="130" cy="1116" rx="52" ry="163" fill="#c8c8c8"/>
  <ellipse cx="128" cy="1116" rx="32" ry="105" fill="#5a5a5a"/>
  <ellipse cx="122" cy="1116" rx="20" ry="78" fill="#8a8a8a"/>
</g>
<!-- SHINGLE FOOT: zoom origin (1080,1070) scale 0.2467 -->
<defs>
<linearGradient id="gFlash" x1="0" x2="1" y1="0.2" y2="0">
<stop offset="0" stop-color="#e2e2e2"/><stop offset="0.5" stop-color="#efefef"/><stop offset="1" stop-color="#f5f5f5"/>
</linearGradient>
<linearGradient id="gDome" x1="0" x2="1" y1="0" y2="0">
<stop offset="0" stop-color="#9a9a9a"/><stop offset="0.08" stop-color="#7e7e7e"/><stop offset="0.3" stop-color="#e2e2e2"/><stop offset="0.5" stop-color="#8a8a8a"/><stop offset="0.62" stop-color="#5e5e5e"/><stop offset="0.85" stop-color="#bdbdbd"/><stop offset="1" stop-color="#7a7a7a"/>
</linearGradient>
</defs>
<g id="foot" transform="translate(1080,1070) scale(0.2467)">
  <!-- lower bracket -->
  <polygon points="535,1278 850,1168 950,1200 948,1245 760,1310 748,1385 640,1388 535,1300" fill="#f2f2f2" stroke="#d6d6d6" stroke-width="5"/>
  <polygon points="776,1216 805,1206 845,1266 815,1278" fill="#7e7e7e"/>
  <polygon points="845,1266 870,1258 870,1190 850,1180 805,1206" fill="#e4e4e4"/>
  <ellipse cx="628" cy="1300" rx="28" ry="18" fill="#c4c4c4"/>
  <!-- flashing plate -->
  <polygon points="50,735 790,400 1470,800 730,1250" fill="url(#gFlash)" stroke="#cfcfcf" stroke-width="4"/>
  <line x1="52" y1="740" x2="730" y2="1250" stroke="#8a8a8a" stroke-width="6"/>
  <line x1="730" y1="1250" x2="1470" y2="802" stroke="#b4b4b4" stroke-width="5"/>
  <!-- dome base -->
  <ellipse cx="645" cy="700" rx="197" ry="111" fill="url(#gDome)"/>
  <ellipse cx="647" cy="656" rx="171" ry="93" fill="#e4e4e4"/>
  <ellipse cx="648" cy="645" rx="160" ry="86" fill="#f6f6f6"/>
  <ellipse cx="647" cy="636" rx="12" ry="8" fill="#1a1a1a"/>
  <!-- stud -->
  <polygon points="606,560 684,555 684,610 650,620 606,612" fill="#e2e2e2" stroke="#a8a8a8" stroke-width="4"/>
  <rect x="625" y="545" width="40" height="30" fill="#a0a0a0"/>
  <!-- L bracket foot -->
  <polygon points="488,470 640,430 762,482 762,512 620,560 488,505" fill="#ececec" stroke="#c4c4c4" stroke-width="4"/>
  <polygon points="620,530 762,485 762,512 620,560" fill="#dcdcdc"/>
  <!-- L bracket vertical (ribbed) -->
  <polygon points="468,100 640,38 645,435 490,475 468,462" fill="#dcdcdc"/>
  <g stroke="#b8b8b8" stroke-width="4.5">
    <line x1="485" y1="112.0" x2="642" y2="60.0"/>
    <line x1="485" y1="122.5" x2="642" y2="70.5"/>
    <line x1="485" y1="133.0" x2="642" y2="81.0"/>
    <line x1="485" y1="143.5" x2="642" y2="91.5"/>
    <line x1="485" y1="154.0" x2="642" y2="102.0"/>
    <line x1="485" y1="164.5" x2="642" y2="112.5"/>
    <line x1="485" y1="175.0" x2="642" y2="123.0"/>
    <line x1="485" y1="185.5" x2="642" y2="133.5"/>
    <line x1="485" y1="196.0" x2="642" y2="144.0"/>
    <line x1="485" y1="206.5" x2="642" y2="154.5"/>
    <line x1="485" y1="217.0" x2="642" y2="165.0"/>
    <line x1="485" y1="227.5" x2="642" y2="175.5"/>
    <line x1="485" y1="238.0" x2="642" y2="186.0"/>
    <line x1="485" y1="248.5" x2="642" y2="196.5"/>
    <line x1="485" y1="259.0" x2="642" y2="207.0"/>
    <line x1="485" y1="269.5" x2="642" y2="217.5"/>
    <line x1="485" y1="280.0" x2="642" y2="228.0"/>
    <line x1="485" y1="290.5" x2="642" y2="238.5"/>
    <line x1="485" y1="301.0" x2="642" y2="249.0"/>
    <line x1="485" y1="311.5" x2="642" y2="259.5"/>
    <line x1="485" y1="322.0" x2="642" y2="270.0"/>
    <line x1="485" y1="332.5" x2="642" y2="280.5"/>
    <line x1="485" y1="343.0" x2="642" y2="291.0"/>
    <line x1="485" y1="353.5" x2="642" y2="301.5"/>
    <line x1="485" y1="364.0" x2="642" y2="312.0"/>
    <line x1="485" y1="374.5" x2="642" y2="322.5"/>
    <line x1="485" y1="385.0" x2="642" y2="333.0"/>
    <line x1="485" y1="395.5" x2="642" y2="343.5"/>
    <line x1="485" y1="406.0" x2="642" y2="354.0"/>
    <line x1="485" y1="416.5" x2="642" y2="364.5"/>
    <line x1="485" y1="427.0" x2="642" y2="375.0"/>
    <line x1="485" y1="437.5" x2="642" y2="385.5"/>
    <line x1="485" y1="448.0" x2="642" y2="396.0"/>
  </g>
  <polygon points="466,100 486,94 490,475 468,462" fill="#eeeeee"/>
  <!-- clamp piece on bracket -->
  <polygon points="518,200 620,160 641,170 641,262 575,282 545,292 518,285" fill="#f2f2f2" stroke="#c8c8c8" stroke-width="3"/>
  <polygon points="518,200 620,160 641,170 545,210" fill="#fafafa"/>
  <ellipse cx="602" cy="240" rx="24" ry="20" fill="#8e8e8e"/>
  <ellipse cx="608" cy="244" rx="12" ry="10" fill="#dedede"/>
  <!-- nut on foot -->
  <ellipse cx="645" cy="468" rx="48" ry="30" fill="#1e1e1e"/>
  <ellipse cx="645" cy="462" rx="32" ry="20" fill="#9a9a9a"/>
  <path d="M618,460 L618,425 Q645,395 672,425 L672,460 Z" fill="#b8b8b8"/>
  <ellipse cx="645" cy="418" rx="20" ry="14" fill="#dadada"/>
</g>

</svg>
</body></html>
